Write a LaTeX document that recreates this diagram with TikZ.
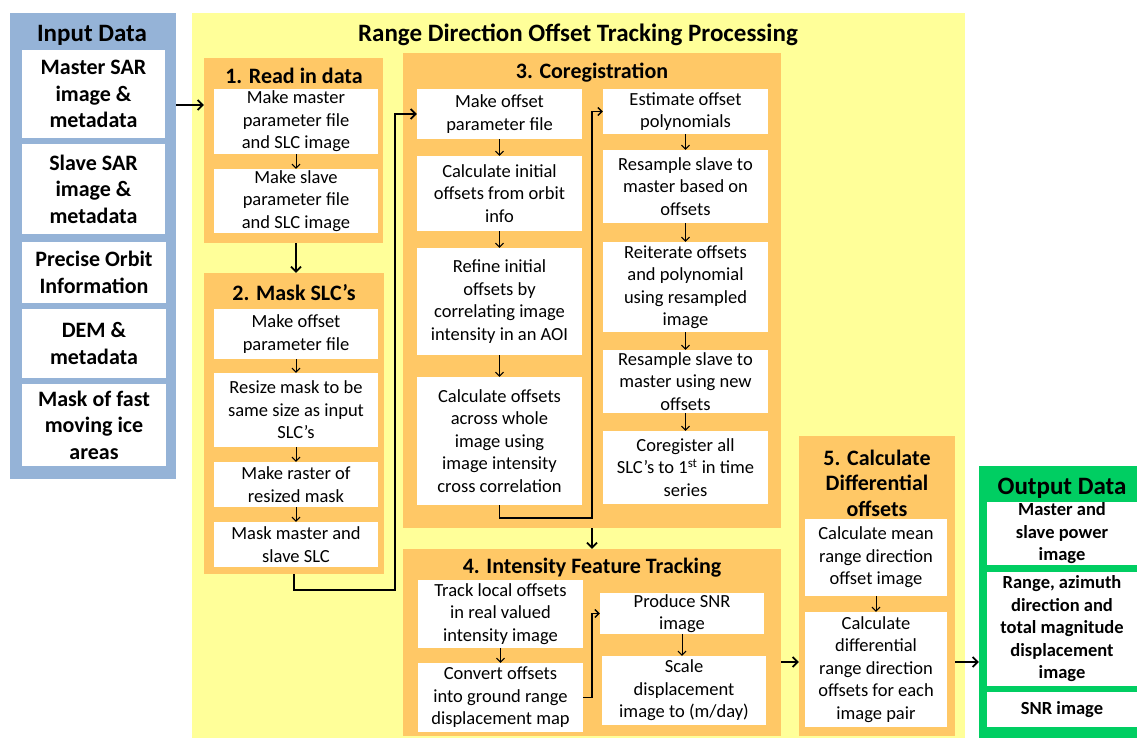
\documentclass[tikz,border=0pt]{standalone}
\usepackage{fontspec}
\setmainfont{Carlito}
\usetikzlibrary{arrows.meta}
\definecolor{inblue}{RGB}{149,179,215}
\definecolor{procyellow}{RGB}{255,255,153}
\definecolor{secorange}{RGB}{255,200,102}
\definecolor{outgreen}{RGB}{0,206,98}
\tikzset{
  panel/.style={draw=none, inner sep=0pt},
  wbox/.style={fill=white, draw=none, align=center, inner sep=0pt, font=\fontsize{18.5}{22.5}\selectfont},
  ibox/.style={wbox, font=\bfseries\fontsize{22}{26.5}\selectfont},
  obox/.style={wbox, font=\bfseries\fontsize{18.5}{22.5}\selectfont},
  bigtitle/.style={align=center, inner sep=0pt, font=\bfseries\fontsize{25}{30}\selectfont},
  sectitle/.style={align=center, inner sep=0pt, font=\bfseries\fontsize{22}{25.5}\selectfont},
  arr/.style={-{Straight Barb[length=5pt,width=10pt]}, line width=1.8pt},
  marr/.style={-{Straight Barb[length=4pt,width=8pt]}, line width=1.3pt},
  sarr/.style={-{Straight Barb[length=4pt,width=8pt]}, line width=1pt},
}
\begin{document}
\begin{tikzpicture}[x=1pt,y=-1pt]
\useasboundingbox (0,0) rectangle (1137,738);
\clip (0,0) rectangle (1137,738);
% panels
\node[panel, fill=inblue, minimum width=166pt, minimum height=466pt] (inpanel) at (93,246) {};
\node[panel, fill=procyellow, minimum width=773pt, minimum height=740pt] (procpanel) at (578.5,383) {};
\node[panel, fill=secorange, minimum width=179pt, minimum height=185pt] (s1) at (293.5,150.5) {};
\node[panel, fill=secorange, minimum width=180pt, minimum height=301pt] (s2) at (294,423.5) {};
\node[panel, fill=secorange, minimum width=378pt, minimum height=475pt] (s3) at (592,290.5) {};
\node[panel, fill=secorange, minimum width=378pt, minimum height=187pt] (s4) at (592,642.5) {};
\node[panel, fill=secorange, minimum width=156pt, minimum height=300pt] (s5) at (877,586) {};
\node[panel, fill=outgreen, minimum width=170pt, minimum height=282pt] (outpanel) at (1064,607) {};
% titles
\node[bigtitle] (tin) at (92,35) {Input Data};
\node[bigtitle] (tproc) at (578,35) {Range Direction Offset Tracking Processing};
\node[bigtitle] (tout) at (1062,488) {Output Data};
\node[sectitle] (t1) at (294,76) {1. Read in data};
\node[sectitle] (t2) at (294,293) {2. Mask SLC’s};
\node[sectitle] (t3) at (592,73) {3. Coregistration};
\node[sectitle] (t4) at (592,568) {4. Intensity Feature Tracking};
\node[sectitle] (t5) at (877,483) {5. Calculate\\Differential\\offsets};
% input boxes
\node[ibox, minimum width=143pt, minimum height=88pt] (in1) at (93.5,94) {Master SAR\\image \&\\metadata};
\node[ibox, minimum width=143pt, minimum height=90pt] (in2) at (93.5,189) {Slave SAR\\image \&\\metadata};
\node[ibox, minimum width=144pt, minimum height=61pt] (in3) at (94,272.5) {Precise Orbit\\Information};
\node[ibox, minimum width=144pt, minimum height=69pt] (in4) at (94,343.5) {DEM \&\\metadata};
\node[ibox, minimum width=144pt, minimum height=82pt] (in5) at (94,425) {Mask of fast\\moving ice\\areas};
% section 1
\node[wbox, minimum width=164pt, minimum height=65pt] (a1) at (296,121.5) {Make master\\parameter file\\and SLC image};
\node[wbox, minimum width=164pt, minimum height=64pt] (a2) at (296,201) {Make slave\\parameter file\\and SLC image};
% section 2
\node[wbox, minimum width=164pt, minimum height=50pt] (b1) at (296,334) {Make offset\\parameter file};
\node[wbox, minimum width=164pt, minimum height=74pt] (b2) at (296,410) {Resize mask to be\\same size as input\\SLC’s};
\node[wbox, minimum width=164pt, minimum height=45pt] (b3) at (296,484.5) {Make raster of\\resized mask};
\node[wbox, minimum width=164pt, minimum height=45pt] (b4) at (296,544.5) {Mask master and\\slave SLC};
% section 3
\node[wbox, minimum width=165pt, minimum height=50pt] (c1) at (499.5,114) {Make offset\\parameter file};
\node[wbox, minimum width=165pt, minimum height=75pt] (c2) at (499.5,193.5) {Calculate initial\\offsets from orbit\\info};
\node[wbox, minimum width=165pt, minimum height=107pt] (c3) at (499.5,301.5) {Refine initial\\offsets by\\correlating image\\intensity in an AOI};
\node[wbox, minimum width=165pt, minimum height=128pt] (c4) at (499.5,441) {Calculate offsets\\across whole\\image using\\image intensity\\cross correlation};
\node[wbox, minimum width=165pt, minimum height=45pt] (d1) at (685.5,111.5) {Estimate offset\\polynomials};
\node[wbox, minimum width=165pt, minimum height=73pt] (d2) at (685.5,186.5) {Resample slave to\\master based on\\offsets};
\node[wbox, minimum width=165pt, minimum height=90pt] (d3) at (685.5,287) {Reiterate offsets\\and polynomial\\using resampled\\image};
\node[wbox, minimum width=165pt, minimum height=63pt] (d4) at (685.5,381.5) {Resample slave to\\master using new\\offsets};
\node[wbox, minimum width=165pt, minimum height=73pt] (d5) at (685.5,467.5) {Coregister all\\SLC’s to 1\textsuperscript{st} in time\\series};
% section 4
\node[wbox, minimum width=165pt, minimum height=68pt] (e1) at (500.5,614) {Track local offsets\\in real valued\\intensity image};
\node[wbox, minimum width=165pt, minimum height=69pt] (e2) at (500.5,697.5) {Convert offsets\\into ground range\\displacement map};
\node[wbox, minimum width=164pt, minimum height=41pt] (f1) at (682,613.5) {Produce SNR\\image};
\node[wbox, minimum width=164pt, minimum height=69pt] (f2) at (684,690.5) {Scale\\displacement\\image to (m/day)};
% section 5
\node[wbox, minimum width=142pt, minimum height=77pt] (g1) at (876,557.5) {Calculate mean\\range direction\\offset image};
\node[wbox, minimum width=142pt, minimum height=115pt] (g2) at (876,669.5) {Calculate\\differential\\range direction\\offsets for each\\image pair};
% output
\node[obox, minimum width=150pt, minimum height=63pt] (o1) at (1062,533.5) {Master and\\slave power\\image};
\node[obox, minimum width=150pt, minimum height=114pt] (o2) at (1062,629) {Range, azimuth\\direction and\\total magnitude\\displacement\\image};
\node[obox, minimum width=150pt, minimum height=35pt] (o3) at (1062,709.5) {SNR image};
% helper coordinates
\coordinate (p1) at (190,105);
\coordinate (j1) at (395,590);
\coordinate (j2) at (592,518);
\coordinate (j3) at (592,615);
\coordinate (p5) at (790,662);
% main connectors
\draw[arr] (inpanel.east |- p1) -- (s1.west |- p1);
\draw[arr] (a1.south |- s1.south) -- (a1.south |- s2.north);
\draw[arr] (s2.south) |- (j1) |- (c1.west);
\draw[arr] (s3.south) -- (s4.north);
\draw[arr] (s4.east |- p5) -- (s5.west |- p5);
\draw[arr] (s5.east |- p5) -- (outpanel.west |- p5);
% inner connectors
\draw[marr] (c4.south) |- (j2) |- (d1.west);
\draw[marr] (e2.east) -| (j3) |- (f1.west);
\draw[sarr] (a1) -- (a2);
\draw[sarr] (b1) -- (b2);
\draw[sarr] (b2) -- (b3);
\draw[sarr] (b3) -- (b4);
\draw[sarr] (c1) -- (c2);
\draw[sarr] (c2) -- (c3);
\draw[sarr] (c3) -- (c4);
\draw[sarr] (d1) -- (d2);
\draw[sarr] (d2) -- (d3);
\draw[sarr] (d3) -- (d4);
\draw[sarr] (d4) -- (d5);
\draw[sarr] (e1) -- (e2);
\draw[sarr] (f1.south) -- (f1.south |- f2.north);
\draw[sarr] (g1) -- (g2);
\end{tikzpicture}
\end{document}
